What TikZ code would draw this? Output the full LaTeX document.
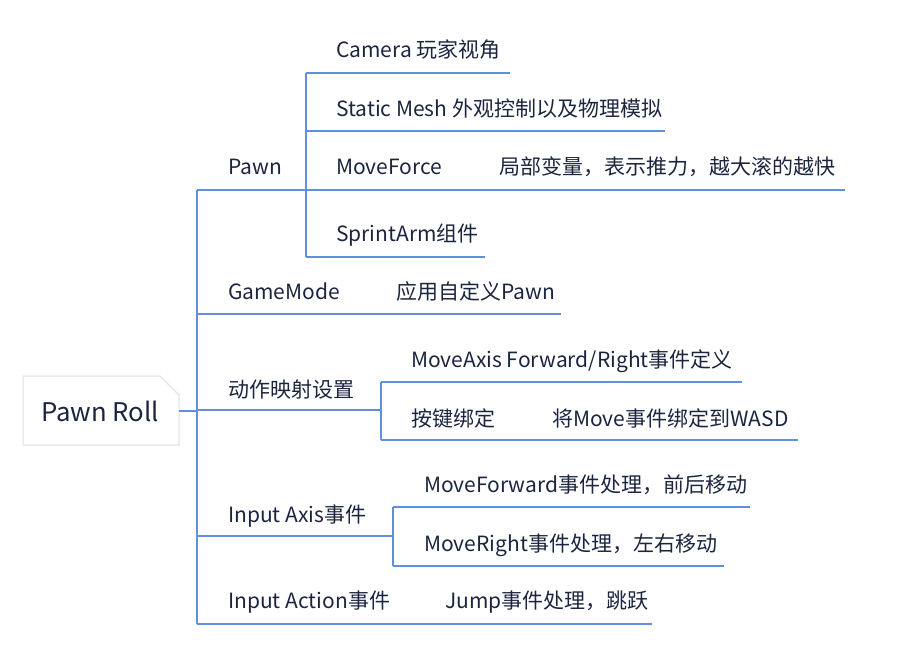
\documentclass[tikz,border=0pt]{standalone}
\usepackage{fontspec}
\setmainfont{Noto Sans CJK SC}
\definecolor{linec}{HTML}{5F8FDD}
\definecolor{textc}{HTML}{1C2540}
\definecolor{rootc}{HTML}{EBEBEB}
\begin{document}
\begin{tikzpicture}[x=1pt,y=-1pt,
  conn/.style={draw=linec, line width=1.6pt},
  lbl/.style={anchor=base west, inner sep=0pt, text=textc, font=\fontsize{21}{24}\selectfont},
  rootlbl/.style={anchor=base west, inner sep=0pt, text=textc, font=\fontsize{25.7}{30}\selectfont}]
\useasboundingbox (0,0) rectangle (915,652);

% root box
\draw[rootc, line width=1.5pt, fill=white] (23,376) -- (160,376) -- (179,395) -- (179,445) -- (23,445) -- cycle;
\draw[rootc, line width=1pt, fill=rootc!40] (160,376) -- (179,395) -- (164,380) -- cycle;
\node[rootlbl] (root) at (41,421) {Pawn Roll};

% coordinates
\coordinate (rootR) at (179,411);
\coordinate (mainM) at (197,411);
\coordinate (mainT) at (197,190);
\coordinate (mainB) at (197,624);

% labels
\node[lbl] (pawn) at (228,175) {Pawn};
\node[lbl] (cam) at (336,58) {Camera 玩家视角};
\node[lbl] (mesh) at (336,117) {Static Mesh 外观控制以及物理模拟};
\node[lbl] (mf) at (336,175) {MoveForce};
\node[lbl] (mfd) at (499,175) {局部变量，表示推力，越大滚的越快};
\node[lbl] (sa) at (336,242) {SprintArm组件};
\node[lbl] (gm) at (228,299) {GameMode};
\node[lbl] (gmd) at (396,299) {应用自定义Pawn};
\node[lbl] (am) at (228,397) {动作映射设置};
\node[lbl] (ma) at (411,367) {MoveAxis Forward/Right事件定义};
\node[lbl] (kb) at (411,426) {按键绑定};
\node[lbl] (kbd) at (552,426) {将Move事件绑定到WASD};
\node[lbl] (ia) at (228,522) {Input Axis事件};
\node[lbl] (mfw) at (424,492) {MoveForward事件处理，前后移动};
\node[lbl] (mr) at (424,551) {MoveRight事件处理，左右移动};
\node[lbl] (iact) at (228,608) {Input Action事件};
\node[lbl] (jump) at (445,608) {Jump事件处理，跳跃};

% branch coordinates
\coordinate (pawnL) at (197,190);
\coordinate (pawnR) at (306,190);
\coordinate (pT) at (306,73);
\coordinate (pB) at (306,257);
\coordinate (camR) at (510,73);
\coordinate (meshL) at (306,131);
\coordinate (meshR) at (665,131);
\coordinate (mfR) at (845,190);
\coordinate (saR) at (485,257);
\coordinate (gmL) at (197,314);
\coordinate (gmR) at (561,314);
\coordinate (amL) at (197,410);
\coordinate (amR) at (381,410);
\coordinate (aT) at (381,382);
\coordinate (aB) at (381,440);
\coordinate (maR) at (742,382);
\coordinate (kbR) at (798,440);
\coordinate (iaL) at (197,536);
\coordinate (iaR) at (393,536);
\coordinate (iT) at (393,507);
\coordinate (iB) at (393,566);
\coordinate (mfwR) at (750,507);
\coordinate (mrR) at (724,566);
\coordinate (iactL) at (197,624);
\coordinate (jumpR) at (652,624);

% connectors
\draw[conn] (rootR) -- (mainM);
\draw[conn] (mainT) -- (mainB);
\draw[conn] (pawnL) -- (pawnR);
\draw[conn] (pT) -- (pB);
\draw[conn] (pT) -- (camR);
\draw[conn] (meshL) -- (meshR);
\draw[conn] (pawnR) -- (mfR);
\draw[conn] (pB) -- (saR);
\draw[conn] (gmL) -- (gmR);
\draw[conn] (amL) -- (amR);
\draw[conn] (aT) -- (aB);
\draw[conn] (aT) -- (maR);
\draw[conn] (aB) -- (kbR);
\draw[conn] (iaL) -- (iaR);
\draw[conn] (iT) -- (iB);
\draw[conn] (iT) -- (mfwR);
\draw[conn] (iB) -- (mrR);
\draw[conn] (iactL) -- (jumpR);
\end{tikzpicture}
\end{document}
